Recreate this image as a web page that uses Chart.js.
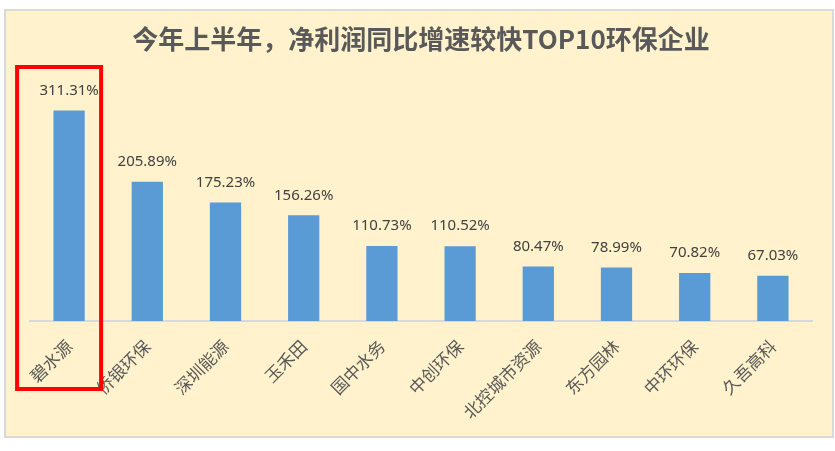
<!DOCTYPE html>
<html>
<head>
<meta charset="utf-8">
<script src="https://cdn.jsdelivr.net/npm/chart.js@4/dist/chart.umd.min.js"></script>
<style>
  html, body { margin: 0; padding: 0; background: #ffffff; }
  #wrap { position: relative; width: 835px; height: 451px; }
</style>
</head>
<body>
<div id="wrap"><canvas id="c" width="835" height="451"></canvas></div>
<script>
const titleText = '今年上半年，净利润同比增速较快TOP10环保企业';
const categories = ['碧水源', '侨银环保', '深圳能源', '玉禾田', '国中水务', '中创环保', '北控城市资源', '东方园林', '中环环保', '久吾高科'];
const growthPct = [311.31, 205.89, 175.23, 156.26, 110.73, 110.52, 80.47, 78.99, 70.82, 67.03];

const framePlugin = {
  id: 'frame',
  beforeDraw(chart) {
    const ctx = chart.ctx;
    ctx.save();
    ctx.fillStyle = '#ffffff';
    ctx.fillRect(0, 0, chart.width, chart.height);
    ctx.fillStyle = '#FFF2CC';
    ctx.fillRect(5, 10, 828, 427);
    ctx.strokeStyle = '#D9D9D9';
    ctx.lineWidth = 2;
    ctx.strokeRect(5, 10, 828, 427);
    ctx.restore();
  },
  afterDatasetsDraw(chart) {
    const ctx = chart.ctx;
    const meta = chart.getDatasetMeta(0);
    ctx.save();
    ctx.font = '15px "Noto Sans", "DejaVu Sans", sans-serif';
    ctx.fillStyle = '#404040';
    ctx.textAlign = 'center';
    ctx.textBaseline = 'middle';
    meta.data.forEach((bar, i) => {
      ctx.fillText(growthPct[i].toFixed(2) + '%', bar.x, bar.y - 20);
    });
    ctx.restore();
  },
  afterDraw(chart) {
    // highlight box around the first category
    const ctx = chart.ctx;
    const bar = chart.getDatasetMeta(0).data[0];
    const left = bar.x - 52, right = bar.x + 32;
    ctx.save();
    ctx.strokeStyle = '#FF0000';
    ctx.lineWidth = 4;
    ctx.strokeRect(left, 67, right - left, 322);
    ctx.restore();
  }
};

new Chart(document.getElementById('c'), {
  type: 'bar',
  data: {
    labels: categories,
    datasets: [{
      data: growthPct,
      backgroundColor: '#5B9BD5',
      borderWidth: 0,
      barPercentage: 0.4,
      categoryPercentage: 1.0
    }]
  },
  options: {
    responsive: false,
    animation: false,
    layout: { padding: { left: 30, right: 23, top: 10, bottom: 0 } },
    plugins: {
      legend: { display: false },
      tooltip: { enabled: false },
      title: {
        display: true,
        text: titleText,
        color: '#595959',
        font: { family: '"Noto Sans CJK SC", sans-serif', size: 26, weight: 'bold', lineHeight: 1.2 },
        padding: { top: 14, bottom: 29 }
      }
    },
    scales: {
      x: {
        grid: { display: false, drawTicks: false },
        border: { display: true, color: '#D9D9D9', width: 2 },
        ticks: {
          color: '#595959',
          font: { family: '"Noto Sans CJK SC", sans-serif', size: 17 },
          minRotation: 45,
          maxRotation: 45,
          padding: 15,
          autoSkip: false
        },
        afterFit(scale) { scale.height = 130; }
      },
      y: {
        display: false,
        min: 0,
        max: 350
      }
    }
  },
  plugins: [framePlugin]
});
</script>
</body>
</html>
